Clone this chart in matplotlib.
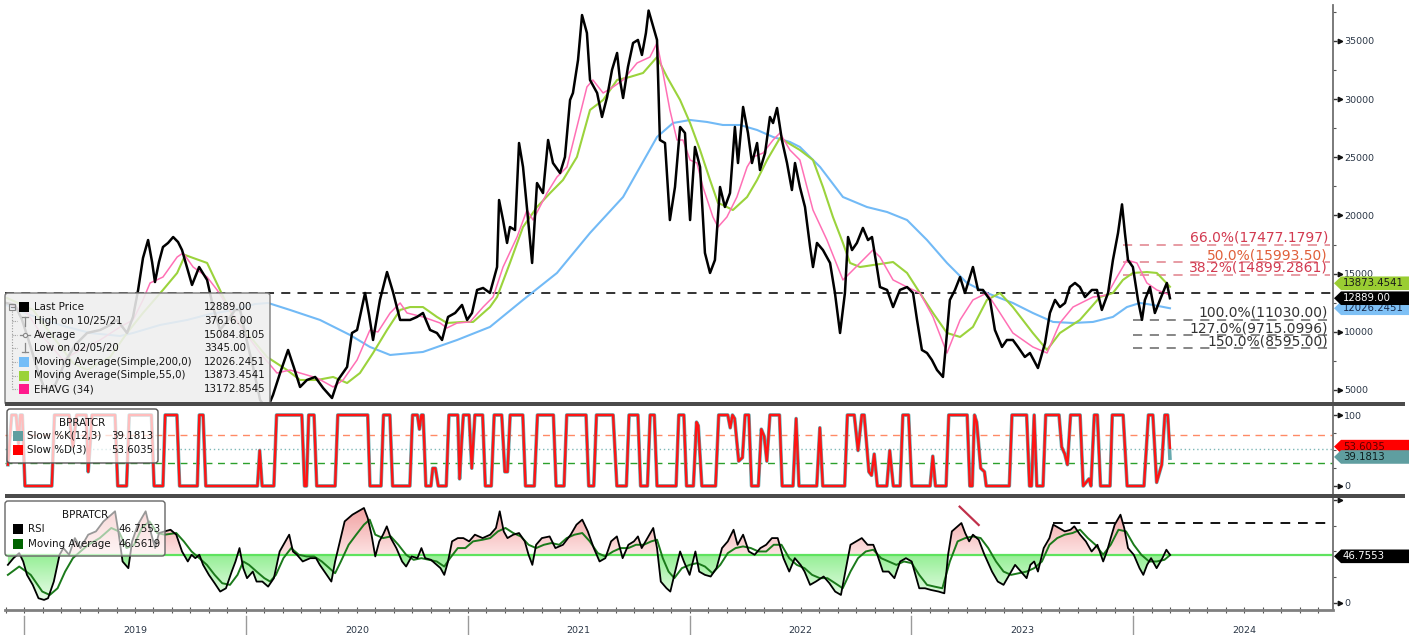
import numpy as np
import matplotlib
matplotlib.use("Agg")
import matplotlib.pyplot as plt
from matplotlib.patches import Polygon, Rectangle, FancyBboxPatch
from matplotlib.lines import Line2D
from matplotlib.transforms import IdentityTransform, blended_transform_factory
from matplotlib.path import Path
from matplotlib.colors import LinearSegmentedColormap, to_rgba

plt.rcParams['font.family'] = ['DejaVu Sans']

# ---------------------------------------------------------------- data
# time in decimal years
price_t = [
    2018.919, 2018.959, 2018.991, 2019.027, 2019.063, 2019.095, 2019.140, 2019.185, 2019.230, 2019.284,
    2019.343, 2019.388, 2019.419, 2019.464, 2019.491, 2019.514, 2019.536, 2019.559, 2019.577, 2019.590,
    2019.608, 2019.626, 2019.649, 2019.672, 2019.694, 2019.712, 2019.735, 2019.757, 2019.789, 2019.825,
    2019.852, 2019.883, 2019.919, 2019.951, 2019.974, 2019.996, 2020.032, 2020.064, 2020.095, 2020.122,
    2020.154, 2020.190, 2020.217, 2020.244, 2020.275, 2020.312, 2020.348, 2020.388, 2020.415, 2020.456,
    2020.478, 2020.501, 2020.537, 2020.555, 2020.573, 2020.604, 2020.636, 2020.663, 2020.695, 2020.740,
    2020.771, 2020.798, 2020.830, 2020.861, 2020.884, 2020.911, 2020.943, 2020.974, 2020.997, 2021.019,
    2021.042, 2021.069, 2021.100, 2021.132, 2021.141, 2021.159, 2021.177, 2021.190, 2021.213, 2021.231,
    2021.249, 2021.272, 2021.290, 2021.312, 2021.339, 2021.362, 2021.384, 2021.416, 2021.438, 2021.461,
    2021.474, 2021.497, 2021.515, 2021.537, 2021.551, 2021.583, 2021.605, 2021.628, 2021.650, 2021.673,
    2021.686, 2021.700, 2021.722, 2021.745, 2021.767, 2021.785, 2021.803, 2021.815, 2021.853, 2021.866,
    2021.889, 2021.911, 2021.934, 2021.957, 2021.979, 2022.002, 2022.024, 2022.047, 2022.069, 2022.092,
    2022.114, 2022.137, 2022.159, 2022.182, 2022.204, 2022.218, 2022.241, 2022.263, 2022.281, 2022.304,
    2022.317, 2022.340, 2022.362, 2022.376, 2022.394, 2022.416, 2022.439, 2022.461, 2022.475, 2022.497,
    2022.520, 2022.543, 2022.556, 2022.574, 2022.601, 2022.633, 2022.655, 2022.678, 2022.700, 2022.714,
    2022.732, 2022.754, 2022.781, 2022.804, 2022.822, 2022.844, 2022.858, 2022.890, 2022.917, 2022.948,
    2022.980, 2023.007, 2023.025, 2023.047, 2023.070, 2023.092, 2023.115, 2023.142, 2023.160, 2023.173,
    2023.196, 2023.219, 2023.241, 2023.277, 2023.300, 2023.322, 2023.354, 2023.376, 2023.408, 2023.430,
    2023.457, 2023.480, 2023.511, 2023.534, 2023.570, 2023.602, 2023.624, 2023.647, 2023.669, 2023.692,
    2023.714, 2023.737, 2023.759, 2023.782, 2023.813, 2023.836, 2023.858, 2023.886, 2023.908, 2023.931,
    2023.949, 2023.962, 2023.976, 2023.998, 2024.021, 2024.039, 2024.052, 2024.075, 2024.097, 2024.120,
    2024.151, 2024.165]
price_v = [
    12480, 12310, 11020, 8870, 6550, 5000, 5430, 7410, 8870, 9900,
    10160, 10590, 11020, 9900, 11280, 13600, 16350, 17890, 16000, 14280,
    16000, 17290, 17640, 18150, 17720, 17030, 15490, 14030, 15570, 14460,
    12130, 10160, 11020, 11880, 11880, 9900, 6980, 4140, 3345, 4570,
    6460, 8440, 6890, 5260, 5860, 6120, 5170, 4310, 5860, 6980,
    9900, 10160, 13340, 11450, 9300, 12740, 15140, 13420, 11020, 11020,
    11280, 11620, 10160, 9900, 9300, 11280, 11620, 12310, 11020, 11620,
    13600, 13770, 13340, 15570, 21330, 19610, 17640, 19010, 18750, 26230,
    24170, 19610, 15920, 22790, 21930, 26490, 24510, 23650, 25030, 29930,
    30530, 33370, 37230, 35690, 31650, 30530, 28470, 30190, 32510, 33970,
    31650, 30100, 32770, 34830, 35090, 33800, 35690, 37616, 35090, 26490,
    26230, 19610, 22450, 27610, 27090, 19610, 25890, 24170, 16780, 15060,
    16170, 22450, 20730, 21930, 27610, 24510, 29330, 27090, 24510, 26230,
    23910, 25370, 28470, 27950, 29240, 26490, 24510, 22190, 24510, 22450,
    20730, 17290, 15570, 17640, 17030, 15920, 13340, 9900, 13340, 18150,
    17030, 17640, 18930, 17890, 18150, 15570, 13850, 13600, 12130, 13600,
    13850, 13340, 11020, 8440, 8180, 7580, 6720, 6120, 9900, 12740,
    13600, 14710, 13340, 15570, 13600, 13600, 12740, 10160, 8700, 9300,
    9300, 8700, 7840, 8180, 6890, 9040, 11620, 12740, 12130, 12480,
    13850, 14200, 13850, 12990, 13600, 13600, 11880, 13340, 16170, 18500,
    20957, 18500, 16170, 15570, 12740, 11030, 12740, 13850, 11620, 12740,
    14200, 12889]

sma200_t = [2018.919, 2019.027, 2019.162, 2019.297, 2019.433, 2019.491, 2019.613, 2019.735, 2019.838, 2019.942,
            2020.041, 2020.100, 2020.199, 2020.334, 2020.469, 2020.559, 2020.650, 2020.798, 2020.952, 2021.100,
            2021.249, 2021.402, 2021.551, 2021.700, 2021.853, 2021.925, 2022.002, 2022.078, 2022.150, 2022.227,
            2022.304, 2022.376, 2022.452, 2022.497, 2022.588, 2022.691, 2022.799, 2022.890, 2022.980, 2023.070,
            2023.160, 2023.250, 2023.340, 2023.457, 2023.547, 2023.638, 2023.728, 2023.818, 2023.908, 2023.971,
            2024.030, 2024.088, 2024.165]
sma200_v = [12310, 11450, 10590, 9900, 9640, 9900, 10590, 11020, 11530, 11880,
            12390, 12480, 11880, 11020, 9730, 8700, 8010, 8270, 9300, 10420,
            12740, 15060, 18500, 21590, 26750, 27950, 28210, 28040, 27780, 27780,
            27350, 26750, 26320, 25890, 24170, 21590, 20730, 20300, 19610, 17890,
            15920, 14200, 13340, 12480, 11620, 10850, 10760, 10850, 11280, 12130,
            12480, 12310, 12026.2451]

sma55_t = [2018.923, 2019.041, 2019.117, 2019.221, 2019.284, 2019.388, 2019.464, 2019.536, 2019.626, 2019.690,
           2019.726, 2019.762, 2019.825, 2019.883, 2019.942, 2020.005, 2020.095, 2020.185, 2020.244, 2020.321,
           2020.393, 2020.456, 2020.514, 2020.573, 2020.636, 2020.695, 2020.740, 2020.798, 2020.861, 2020.906,
           2020.979, 2021.024, 2021.100, 2021.132, 2021.190, 2021.249, 2021.312, 2021.371, 2021.429, 2021.492,
           2021.551, 2021.610, 2021.673, 2021.731, 2021.790, 2021.853, 2021.898, 2021.957, 2022.002, 2022.047,
           2022.092, 2022.128, 2022.150, 2022.195, 2022.259, 2022.304, 2022.349, 2022.407, 2022.497, 2022.556,
           2022.601, 2022.646, 2022.691, 2022.723, 2022.768, 2022.826, 2022.890, 2022.917, 2022.980, 2023.038,
           2023.097, 2023.160, 2023.219, 2023.277, 2023.340, 2023.399, 2023.457, 2023.547, 2023.611, 2023.669,
           2023.759, 2023.850, 2023.908, 2023.953, 2023.998, 2024.061, 2024.106, 2024.165]
sma55_v = [12910, 11880, 9900, 7320, 6720, 7840, 9900, 11620, 13600, 15060,
           16600, 16350, 15920, 13600, 11280, 9900, 7840, 6720, 5860, 5860,
           6120, 5600, 6460, 8180, 10160, 11880, 12130, 12130, 11280, 10760,
           10850, 10850, 12130, 12990, 15920, 19010, 20730, 21930, 23050, 25030,
           29070, 29930, 31650, 31910, 32250, 33620, 31910, 29930, 27950, 25630,
           23050, 21070, 20900, 20470, 21590, 23050, 24770, 26660, 25630, 24770,
           22450, 19870, 17640, 15920, 15570, 15740, 15920, 16000, 15060, 13340,
           11620, 9900, 9560, 10420, 12740, 13340, 12130, 9900, 8440, 9900,
           11020, 12990, 13340, 14460, 15060, 15140, 15060, 13873.4541]

ema34_t = [2018.923, 2019.014, 2019.086, 2019.176, 2019.252, 2019.343, 2019.433, 2019.491, 2019.536, 2019.568,
           2019.626, 2019.690, 2019.717, 2019.762, 2019.825, 2019.870, 2019.928, 2019.987, 2020.064, 2020.140,
           2020.199, 2020.244, 2020.321, 2020.393, 2020.438, 2020.501, 2020.559, 2020.595, 2020.650, 2020.695,
           2020.726, 2020.798, 2020.875, 2020.906, 2020.952, 2021.010, 2021.069, 2021.114, 2021.159, 2021.222,
           2021.267, 2021.294, 2021.357, 2021.402, 2021.447, 2021.492, 2021.537, 2021.564, 2021.610, 2021.655,
           2021.700, 2021.763, 2021.821, 2021.853, 2021.880, 2021.911, 2021.943, 2021.970, 2022.002, 2022.033,
           2022.060, 2022.105, 2022.128, 2022.168, 2022.213, 2022.259, 2022.286, 2022.331, 2022.376, 2022.407,
           2022.452, 2022.497, 2022.556, 2022.619, 2022.691, 2022.723, 2022.768, 2022.826, 2022.858, 2022.917,
           2022.980, 2023.038, 2023.097, 2023.160, 2023.219, 2023.277, 2023.340, 2023.399, 2023.457, 2023.547,
           2023.611, 2023.669, 2023.728, 2023.818, 2023.881, 2023.926, 2023.971, 2024.016, 2024.061, 2024.106,
           2024.165]
ema34_v = [12480, 11620, 9560, 7580, 8440, 9300, 10420, 11020, 12740, 14200,
           14710, 16430, 16780, 15570, 14710, 13600, 11880, 10160, 8180, 6460,
           6720, 6460, 6030, 5260, 5860, 7580, 10160, 9990, 11620, 12480,
           11620, 11280, 10760, 10330, 10760, 10850, 12130, 12990, 15570, 18150,
           20470, 19610, 21930, 23310, 24170, 27610, 31050, 31650, 30530, 31050,
           31650, 33110, 33620, 34830, 32250, 29070, 26490, 26490, 24770, 24510,
           22450, 19870, 19010, 19870, 21590, 24170, 25030, 25370, 26490, 27090,
           25630, 24770, 20470, 17890, 14460, 15060, 15920, 17030, 16430, 14460,
           13850, 13340, 11280, 8180, 11020, 12740, 13340, 11620, 9900, 8700,
           8180, 10760, 12130, 12990, 13160, 14710, 16170, 15920, 14200, 13600,
           13172.8545]

hline_price = 13300
fib_labels = ['66.0%(17477.1797)', '50.0%(15993.50)', '38.2%(14899.2861)',
              '100.0%(11030.00)', '127.0%(9715.0996)', '150.0%(8595.00)']
fib_values = [17477.1797, 15993.50, 14899.2861, 11030.00, 9715.0996, 8595.00]
fib_start = [2023.953, 2023.953, 2023.953, 2023.998, 2023.998, 2023.998]
fib_end = 2024.886

legend_labels = ['Last Price', 'High on 10/25/21', 'Average', 'Low on 02/05/20',
                 'Moving Average(Simple,200,0)', 'Moving Average(Simple,55,0)', 'EHAVG (34)']
legend_values = ['12889.00', '37616.00', '15084.8105', '3345.00',
                 '12026.2451', '13873.4541', '13172.8545']

stoch_t = [
    2018.927, 2018.944, 2018.964, 2018.975, 2018.983, 2018.992, 2019.004, 2019.125, 2019.137, 2019.203,
    2019.220, 2019.237, 2019.280, 2019.289, 2019.298, 2019.306, 2019.410, 2019.422, 2019.462, 2019.474,
    2019.574, 2019.586, 2019.626, 2019.636, 2019.689, 2019.701, 2019.781, 2019.790, 2019.807, 2019.819,
    2020.052, 2020.062, 2020.073, 2020.126, 2020.138, 2020.252, 2020.264, 2020.273, 2020.283, 2020.307,
    2020.319, 2020.402, 2020.414, 2020.549, 2020.559, 2020.609, 2020.620, 2020.649, 2020.661, 2020.739,
    2020.751, 2020.773, 2020.782, 2020.791, 2020.799, 2020.811, 2020.834, 2020.842, 2020.854, 2020.867,
    2020.903, 2020.915, 2020.955, 2020.963, 2020.972, 2020.980, 2021.006, 2021.018, 2021.032, 2021.067,
    2021.079, 2021.106, 2021.119, 2021.153, 2021.167, 2021.179, 2021.191, 2021.248, 2021.260, 2021.300,
    2021.314, 2021.386, 2021.398, 2021.434, 2021.446, 2021.533, 2021.545,
    2021.568, 2021.580, 2021.655, 2021.672, 2021.715, 2021.727, 2021.767, 2021.779, 2021.810, 2021.822,
    2021.841, 2021.853, 2021.939, 2021.951, 2021.974, 2021.986, 2022.017, 2022.031, 2022.039, 2022.055,
    2022.117, 2022.131, 2022.172, 2022.183, 2022.193, 2022.203, 2022.221, 2022.238, 2022.250, 2022.267,
    2022.279, 2022.310, 2022.323, 2022.336, 2022.348, 2022.362, 2022.405, 2022.417, 2022.466, 2022.480,
    2022.493, 2022.573, 2022.587, 2022.600, 2022.699, 2022.711, 2022.742, 2022.759, 2022.776, 2022.787,
    2022.808, 2022.820, 2022.832, 2022.846, 2022.889, 2022.902, 2022.918, 2022.949, 2022.961, 2022.987,
    2023.001, 2023.084, 2023.096, 2023.108, 2023.156, 2023.168, 2023.251, 2023.263, 2023.274, 2023.284,
    2023.294, 2023.312, 2023.329, 2023.337, 2023.441, 2023.453, 2023.519, 2023.532, 2023.541, 2023.553,
    2023.565, 2023.593, 2023.605, 2023.665, 2023.677, 2023.691, 2023.703, 2023.717, 2023.760, 2023.774,
    2023.800, 2023.809, 2023.824, 2023.838, 2023.852, 2023.895, 2023.905, 2023.954, 2023.972, 2024.048,
    2024.068, 2024.088, 2024.105, 2024.128, 2024.142, 2024.155, 2024.165]
stoch_d = [
    30, 100, 100, 60, 100, 100, 0, 0, 100, 100,
    55, 100, 100, 20, 60, 100, 100, 0, 0, 100,
    100, 0, 0, 100, 100, 0, 0, 100, 100, 0,
    0, 50, 0, 0, 100, 100, 0, 0, 100, 100,
    0, 0, 100, 100, 0, 0, 100, 100, 0, 0,
    100, 100, 80, 100, 100, 0, 0, 25, 25, 0,
    0, 100, 100, 10, 60, 100, 100, 25, 100, 100,
    0, 0, 100, 100, 20, 20, 100, 100, 0, 0,
    100, 100, 0, 0, 100, 100, 0,
    0, 100, 100, 0, 0, 100, 100, 0, 0, 100,
    100, 0, 0, 100, 100, 0, 0, 90, 85, 0,
    0, 100, 100, 82, 100, 95, 35, 40, 100, 100,
    0, 0, 80, 70, 35, 100, 100, 0, 0, 95,
    0, 0, 82, 0, 0, 100, 100, 50, 100, 100,
    20, 15, 45, 0, 0, 50, 0, 0, 100, 100,
    0, 0, 42, 0, 0, 100, 100, 0, 0, 100,
    90, 25, 20, 0, 0, 100, 100, 0, 0, 100,
    0, 0, 100, 100, 55, 45, 30, 100, 100, 0,
    10, 0, 100, 100, 0, 0, 100, 100, 0, 0,
    100, 100, 5, 30, 100, 100, 53.6035]
stoch_k = stoch_d[:-1] + [39.1813]
stoch_levels = [72, 52, 32]

rsi_t = [
    2018.927, 2018.952, 2018.978, 2018.996, 2019.013, 2019.039, 2019.065, 2019.090, 2019.108, 2019.134,
    2019.160, 2019.177, 2019.203, 2019.229, 2019.254, 2019.289, 2019.324, 2019.358, 2019.393, 2019.410,
    2019.427, 2019.444, 2019.470, 2019.487, 2019.513, 2019.548, 2019.574, 2019.591, 2019.608, 2019.634,
    2019.660, 2019.686, 2019.712, 2019.738, 2019.755, 2019.772, 2019.790, 2019.807, 2019.833, 2019.859,
    2019.884, 2019.910, 2019.936, 2019.953, 2019.971, 2019.988, 2020.005, 2020.031, 2020.048, 2020.074,
    2020.100, 2020.126, 2020.152, 2020.178, 2020.195, 2020.212, 2020.230, 2020.256, 2020.290, 2020.316,
    2020.333, 2020.359, 2020.385, 2020.402, 2020.420, 2020.445, 2020.480, 2020.506, 2020.532, 2020.549,
    2020.566, 2020.583, 2020.601, 2020.618, 2020.635, 2020.653, 2020.678, 2020.704, 2020.722, 2020.747,
    2020.773, 2020.791, 2020.808, 2020.834, 2020.860, 2020.877, 2020.894, 2020.911, 2020.929, 2020.955,
    2020.980, 2021.006, 2021.032, 2021.067, 2021.101, 2021.127, 2021.144, 2021.162, 2021.179, 2021.205,
    2021.231, 2021.257, 2021.274, 2021.291, 2021.308, 2021.334, 2021.369, 2021.395, 2021.429, 2021.464,
    2021.490, 2021.516, 2021.541,
    2021.568, 2021.594, 2021.620, 2021.646, 2021.672, 2021.698, 2021.724, 2021.749, 2021.767, 2021.784,
    2021.810, 2021.836, 2021.853, 2021.870, 2021.896, 2021.913, 2021.931, 2021.957, 2021.974, 2022.000,
    2022.026, 2022.043, 2022.069, 2022.095, 2022.121, 2022.146, 2022.172, 2022.198, 2022.216, 2022.241,
    2022.267, 2022.293, 2022.319, 2022.345, 2022.371, 2022.397, 2022.423, 2022.449, 2022.474, 2022.500,
    2022.518, 2022.543, 2022.569, 2022.604, 2022.630, 2022.656, 2022.682, 2022.699, 2022.725, 2022.751,
    2022.776, 2022.802, 2022.828, 2022.846, 2022.871, 2022.897, 2022.923, 2022.949, 2022.975, 2023.001,
    2023.018, 2023.035, 2023.061, 2023.087, 2023.122, 2023.148, 2023.165, 2023.182, 2023.208, 2023.225,
    2023.242, 2023.260, 2023.277, 2023.303, 2023.329, 2023.363, 2023.389, 2023.415, 2023.441, 2023.467,
    2023.493, 2023.519, 2023.536, 2023.553, 2023.570, 2023.596, 2023.622, 2023.639, 2023.665, 2023.691,
    2023.717, 2023.734, 2023.760, 2023.786, 2023.812, 2023.838, 2023.864, 2023.881, 2023.898, 2023.916,
    2023.942, 2023.959, 2023.976, 2024.002, 2024.028, 2024.045, 2024.062, 2024.080, 2024.105, 2024.131,
    2024.149, 2024.165]
rsi_v = [
    37.0, 43.5, 48.4, 40.3, 27.3, 17.6, 4.6, 3.0, 4.6, 20.8,
    46.8, 53.3, 46.8, 63.0, 53.3, 66.3, 69.5, 79.2, 85.7, 89.0,
    66.3, 40.3, 33.8, 59.8, 76.0, 89.0, 66.3, 53.3, 67.9, 69.5,
    71.1, 66.3, 50.0, 40.3, 46.8, 43.5, 46.8, 37.0, 27.3, 19.2,
    11.1, 14.3, 30.5, 40.3, 53.3, 33.8, 24.1, 30.5, 20.8, 20.8,
    15.9, 24.1, 50.0, 59.8, 66.3, 50.0, 46.8, 40.3, 43.5, 43.5,
    37.0, 28.9, 20.8, 40.3, 56.5, 79.2, 85.7, 89.0, 92.2, 82.5,
    66.3, 45.2, 59.8, 66.3, 74.4, 63.0, 53.3, 40.3, 35.4, 45.2,
    43.5, 53.3, 43.5, 41.9, 37.0, 33.8, 27.3, 40.3, 59.8, 63.0,
    63.0, 59.8, 66.3, 63.0, 66.3, 72.8, 89.0, 69.5, 63.0, 66.3,
    67.9, 59.8, 46.8, 37.0, 56.5, 63.0, 64.6, 53.3, 56.5, 66.3,
    76.0, 80.9, 69.5,
    53.3, 40.3, 43.5, 59.8, 64.6, 43.5, 56.5, 59.8, 64.6, 53.3,
    63.0, 72.8, 53.3, 20.8, 14.3, 11.1, 27.3, 50.0, 40.3, 27.3,
    50.0, 30.5, 27.3, 25.7, 33.8, 53.3, 59.8, 71.1, 56.5, 66.3,
    50.0, 46.8, 53.3, 56.5, 63.0, 63.0, 43.5, 30.5, 43.5, 37.0,
    30.5, 17.6, 20.8, 25.7, 19.2, 11.1, 7.8, 27.3, 56.5, 59.8,
    63.0, 56.5, 56.5, 46.8, 30.5, 30.5, 24.1, 40.3, 43.5, 40.3,
    27.3, 14.3, 14.3, 12.7, 11.1, 9.4, 46.8, 69.5, 74.4, 77.6,
    67.9, 59.8, 66.3, 61.4, 46.8, 30.5, 20.8, 17.6, 27.3, 37.0,
    30.5, 24.1, 37.0, 40.3, 30.5, 53.3, 63.0, 76.0, 72.8, 69.5,
    71.1, 74.4, 66.3, 59.8, 50.0, 56.5, 40.3, 50.0, 63.0, 76.0,
    85.7, 72.8, 53.3, 46.8, 33.8, 27.3, 37.0, 43.5, 33.8, 43.5,
    51.7, 46.7553]

rsima_t = [
    2018.927, 2018.978, 2019.030, 2019.082, 2019.116, 2019.151, 2019.185, 2019.220, 2019.254, 2019.289,
    2019.341, 2019.393, 2019.427, 2019.462, 2019.496, 2019.531, 2019.565, 2019.600, 2019.634, 2019.686,
    2019.720, 2019.755, 2019.790, 2019.824, 2019.859, 2019.893, 2019.928, 2019.962, 2019.988, 2020.014,
    2020.048, 2020.083, 2020.109, 2020.135, 2020.169, 2020.204, 2020.238, 2020.273, 2020.307, 2020.342,
    2020.376, 2020.402, 2020.428, 2020.463, 2020.497, 2020.532, 2020.558, 2020.583, 2020.618, 2020.653,
    2020.687, 2020.722, 2020.756, 2020.791, 2020.825, 2020.860, 2020.894, 2020.920, 2020.955, 2020.989,
    2021.024, 2021.067, 2021.101, 2021.136, 2021.170, 2021.205, 2021.239, 2021.274, 2021.308, 2021.343,
    2021.377, 2021.412, 2021.446, 2021.481, 2021.516, 2021.550,
    2021.586, 2021.620, 2021.655, 2021.689, 2021.724, 2021.758, 2021.793, 2021.827, 2021.853, 2021.879,
    2021.905, 2021.931, 2021.965, 2022.000, 2022.034, 2022.069, 2022.103, 2022.138, 2022.172, 2022.207,
    2022.241, 2022.276, 2022.310, 2022.345, 2022.379, 2022.414, 2022.449, 2022.483, 2022.518, 2022.552,
    2022.587, 2022.621, 2022.656, 2022.690, 2022.725, 2022.759, 2022.794, 2022.828, 2022.863, 2022.897,
    2022.932, 2022.966, 2023.001, 2023.035, 2023.070, 2023.104, 2023.139, 2023.173, 2023.208, 2023.242,
    2023.277, 2023.312, 2023.346, 2023.381, 2023.415, 2023.449, 2023.484, 2023.519, 2023.553, 2023.588,
    2023.622, 2023.657, 2023.691, 2023.726, 2023.760, 2023.795, 2023.829, 2023.864, 2023.898, 2023.933,
    2023.967, 2024.002, 2024.036, 2024.071, 2024.105, 2024.140, 2024.166]
rsima_v = [
    27.3, 35.4, 27.3, 11.1, 7.8, 14.3, 30.5, 43.5, 50.0, 56.5,
    63.0, 72.8, 69.5, 53.3, 56.5, 72.8, 79.2, 67.9, 66.3, 67.9,
    59.8, 50.0, 43.5, 37.0, 27.3, 19.2, 17.6, 27.3, 40.3, 37.0,
    30.5, 24.1, 20.8, 27.3, 43.5, 53.3, 46.8, 45.2, 45.2, 40.3,
    33.8, 28.9, 40.3, 56.5, 66.3, 76.0, 80.9, 66.3, 63.0, 64.6,
    56.5, 46.8, 41.9, 43.5, 41.9, 40.3, 35.4, 43.5, 53.3, 53.3,
    59.8, 61.4, 63.0, 69.5, 72.8, 67.9, 64.6, 56.5, 53.3, 56.5,
    58.2, 56.5, 63.0, 66.3, 67.9, 59.8,
    48.4, 45.2, 50.0, 53.3, 53.3, 56.5, 56.5, 59.8, 61.4, 43.5,
    30.5, 24.1, 33.8, 37.0, 38.7, 35.4, 28.9, 37.0, 48.4, 53.3,
    54.9, 53.3, 50.0, 50.0, 56.5, 56.5, 43.5, 37.0, 33.8, 27.3,
    24.1, 24.1, 19.2, 14.3, 30.5, 43.5, 50.0, 51.7, 43.5, 40.3,
    37.0, 40.3, 38.7, 27.3, 17.6, 15.9, 14.3, 40.3, 59.8, 63.0,
    64.6, 63.0, 53.3, 40.3, 30.5, 27.3, 28.9, 30.5, 33.8, 40.3,
    56.5, 63.0, 66.3, 67.9, 71.1, 63.0, 56.5, 46.8, 56.5, 71.1,
    69.5, 56.5, 46.8, 40.3, 40.3, 41.9, 46.5619]
rsi_level = 46.7553
trend_t = [2023.217, 2023.303]
trend_v = [93.5, 75.7]
resist_t = [2023.638, 2024.900]
resist_v = [77.3, 77.3]
years = [2019, 2020, 2021, 2022, 2023, 2024]

# ---------------------------------------------------------------- figure
W, H = 1409, 635
fig = plt.figure(figsize=(W / 100, H / 100), dpi=100)
fig.patch.set_facecolor('white')
ID = IdentityTransform()
TXT = '#2a3646'
AX_FS = 6.8
LEG_FS = 7.4


def frac(x0, y0, x1, y1):
    return [x0 / W, 1 - y1 / H, (x1 - x0) / W, (y1 - y0) / H]


ax1 = fig.add_axes(frac(5, 5, 1333, 402))
ax2 = fig.add_axes(frac(5, 406, 1333, 494))
ax3 = fig.add_axes(frac(5, 498, 1333, 610))
XMIN, XMAX = 2018.914, 2024.900

for ax in (ax1, ax2, ax3):
    ax.set_facecolor('white')
    for s in ('left', 'top', 'bottom'):
        ax.spines[s].set_visible(False)
    ax.spines['right'].set_color('#707070')
    ax.spines['right'].set_linewidth(1.3)
    ax.yaxis.tick_right()
    ax.tick_params(axis='y', which='major', length=3, width=1, color='#333',
                   labelsize=AX_FS, labelcolor=TXT, pad=5)
    ax.tick_params(axis='y', which='minor', length=2.5, width=0.8, color='#555')
    ax.tick_params(axis='x', which='both', bottom=False, top=False, labelbottom=False)


def arrows(ax, vals):
    tr = blended_transform_factory(ax.transAxes, ax.transData)
    ax.plot([1.005] * len(vals), vals, ls='none', marker='>', ms=3.2, color='#111',
            transform=tr, clip_on=False, zorder=10)


# ---- top panel
ax1.plot(sma200_t, sma200_v, color='#72baf6', lw=1.5, zorder=2)
ax1.plot(sma55_t, sma55_v, color='#9bd33c', lw=1.5, zorder=3)
ax1.plot(ema34_t, ema34_v, color='#ff70b5', lw=1.1, zorder=4)
ax1.plot(price_t, price_v, color='black', lw=1.8, zorder=5, solid_joinstyle='round')
ax1.axhline(hline_price, color='#222222', lw=1.3, ls=(0, (5, 4)), zorder=1)
fib_line_colors = ['#e0808a', '#e0808a', '#e0808a', '#666666', '#666666', '#666666']
fib_text_colors = ['#d23a50', '#e0603a', '#d23a50', '#333333', '#333333', '#333333']
for lab, val, t0, lc, tc in zip(fib_labels, fib_values, fib_start, fib_line_colors, fib_text_colors):
    ax1.plot([t0, fib_end], [val, val], color=lc, lw=1.1, ls=(0, (6, 5)), zorder=1)
    ax1.text(fib_end - 0.009, val, lab, ha='right', va='bottom', fontsize=10, color=tc, zorder=6)
ax1.set_xlim(XMIN, XMAX)
ax1.set_ylim(3968, 38094)
ax1.set_yticks(list(range(5000, 35001, 5000)))
ax1.set_yticks(list(range(7500, 37501, 5000)), minor=True)
arrows(ax1, list(range(5000, 35001, 5000)))

# ---- stochastic panel
for lvl, c, ls in zip(stoch_levels, ['#ff8a66', '#7fb8b8', '#2ca02c'],
                      [(0, (5, 4)), (0, (1, 2)), (0, (5, 4))]):
    ax2.axhline(lvl, color=c, lw=1, ls=ls, zorder=1)
ax2.plot(stoch_t, stoch_k, color='#66a9ae', lw=2.6, zorder=2, solid_joinstyle='round')
ax2.plot(stoch_t, stoch_d, color='#ff1414', lw=1.7, zorder=3, solid_joinstyle='round')
ax2.set_xlim(XMIN, XMAX)
ax2.set_ylim(-11.3, 112.7)
ax2.set_yticks([0, 100])
ax2.set_yticks([25, 50, 75], minor=True)
arrows(ax2, [0, 100])

# ---- RSI panel
rt = np.asarray(rsi_t)
rv = np.asarray(rsi_v)
up = ax3.fill_between(rt, rv, rsi_level, where=rv >= rsi_level, interpolate=True,
                      facecolor='none', edgecolor='none')
dn = ax3.fill_between(rt, rv, rsi_level, where=rv <= rsi_level, interpolate=True,
                      facecolor='none', edgecolor='none')
grad = np.linspace(0, 1, 256).reshape(-1, 1)
cm_up = LinearSegmentedColormap.from_list('up', ['#fde4e4', '#ef9696'])
cm_dn = LinearSegmentedColormap.from_list('dn', ['#f0fdf0', '#94ef94'])
im_up = ax3.imshow(grad, extent=[XMIN, XMAX, rsi_level, 100], origin='lower', cmap=cm_up,
                   aspect='auto', zorder=1, interpolation='bilinear')
im_up.set_clip_path(Path.make_compound_path(*up.get_paths()), ax3.transData)
im_dn = ax3.imshow(grad, extent=[XMIN, XMAX, 0, rsi_level], origin='lower', cmap=cm_dn,
                   aspect='auto', zorder=1, interpolation='bilinear')
im_dn.set_clip_path(Path.make_compound_path(*dn.get_paths()), ax3.transData)
ax3.axhline(rsi_level, color='#5fe35f', lw=1.6, zorder=2)
ax3.plot(rsima_t, rsima_v, color='#1b7a1b', lw=1.4, zorder=3)
ax3.plot(rsi_t, rsi_v, color='black', lw=1.3, zorder=4, solid_joinstyle='round')
ax3.plot(trend_t, trend_v, color='#c0304a', lw=1.6, zorder=5)
ax3.plot(resist_t, resist_v, color='#111111', lw=1.4, ls=(0, (5, 4)), zorder=5, clip_on=False)
ax3.set_xlim(XMIN, XMAX)
ax3.set_ylim(-6.8, 101.9)
ax3.set_yticks([0, 100])
ax3.set_yticklabels(['0', ''])
ax3.set_yticks([25, 50, 75], minor=True)
arrows(ax3, [0, 100])
ax3.spines['bottom'].set_visible(True)
ax3.spines['bottom'].set_color('#808080')
ax3.spines['bottom'].set_linewidth(2)
months = [2018 + 11 / 12] + [y + m / 12 for y in years for m in range(12)]
months = [m for m in months if XMIN <= m <= XMAX]
ax3.set_xticks(months)
ax3.tick_params(axis='x', which='major', bottom=True, length=5, width=0.8, color='#555',
                direction='inout', labelbottom=False)
trx = blended_transform_factory(ax3.transData, ax3.transAxes)
for yr in years:
    ax3.plot([yr, yr], [-0.05, -0.23], color='#9a9a9a', lw=1, transform=trx, clip_on=False)
    ax3.text(yr + 0.5, -0.185, str(yr), transform=trx, ha='center', va='center',
             fontsize=AX_FS, color=TXT)

# ---------------------------------------------------------------- legends
def ftext(x, y, s, **kw):
    kw.setdefault('fontsize', LEG_FS)
    kw.setdefault('color', '#151515')
    kw.setdefault('va', 'center')
    fig.text(x, H - y, s, transform=ID, **kw)


def fsquare(x, y, c, z=9):
    fig.add_artist(Rectangle((x, H - y - 5), 10, 10, transform=ID, fc=c, ec='none', zorder=z))


def fline(xs, ys, **kw):
    fig.add_artist(Line2D(xs, [H - v for v in ys], transform=ID, **kw))


# top legend
fig.add_artist(FancyBboxPatch((5, H - 405), 265, 112, boxstyle='round,pad=0,rounding_size=3',
                              transform=ID, fc=to_rgba('#efefef', 0.88), ec='#7a7a7a', lw=1, zorder=8))
rows_y = [307, 321, 334.5, 348, 362, 375.5, 389]
sq_cols = ['#000000', None, None, None, '#74bdf7', '#9ad23a', '#ff1a8c']
for yy, lab, val, c in zip(rows_y, legend_labels, legend_values, sq_cols):
    if c:
        fsquare(19, yy, c)
    ftext(34, yy, lab, zorder=9)
    ftext(204, yy, val, zorder=9)
fig.add_artist(Rectangle((9, H - 310), 6, 6, transform=ID, fc='none', ec='#888', lw=0.8, zorder=9))
fline([10.5, 13.5], [307, 307], color='#888', lw=0.8, zorder=9)
fline([12, 12], [311, 389], color='#9a9a9a', lw=0.8, ls=(0, (1, 1.5)), zorder=9)
for yy in rows_y[1:]:
    fline([12, 17], [yy, yy], color='#9a9a9a', lw=0.8, ls=(0, (1, 1)), zorder=9)
fline([25, 25], [317, 326], color='#888', lw=0.9, zorder=9)
fline([22, 28], [317, 317], color='#888', lw=0.9, zorder=9)
fline([20, 30], [334.5, 334.5], color='#888', lw=0.9, zorder=9)
fig.add_artist(Line2D([25], [H - 334.5], transform=ID, marker='o', ms=3, mfc='#efefef',
                      mec='#888', mew=0.8, zorder=9))
fline([25, 25], [343, 352], color='#888', lw=0.9, zorder=9)
fline([22, 28], [352, 352], color='#888', lw=0.9, zorder=9)

# stochastic legend
fig.add_artist(FancyBboxPatch((7, H - 463), 151, 54, boxstyle='round,pad=0,rounding_size=3',
                              transform=ID, fc=to_rgba('white', 0.72), ec='#555', lw=1, zorder=8))
ftext(82, 423, 'BPRATCR', ha='center', zorder=9)
fsquare(13, 436, '#5f9ea0')
fsquare(13, 450, '#ff0000')
ftext(27, 436, 'Slow %K(12,3)', zorder=9)
ftext(27, 450, 'Slow %D(3)', zorder=9)
ftext(153, 436, '39.1813', ha='right', zorder=9)
ftext(153, 450, '53.6035', ha='right', zorder=9)

# RSI legend
fig.add_artist(FancyBboxPatch((5, H - 556), 160, 55, boxstyle='round,pad=0,rounding_size=3',
                              transform=ID, fc=to_rgba('white', 0.6), ec='#666', lw=1, zorder=8))
ftext(85, 515.5, 'BPRATCR', ha='center', zorder=9)
fsquare(13, 528.5, '#000000')
fsquare(13, 544, '#006400')
ftext(28, 528.5, 'RSI', zorder=9)
ftext(28, 544, 'Moving Average', zorder=9)
ftext(161, 528.5, '46.7553', ha='right', zorder=9)
ftext(161, 544, '46.5619', ha='right', zorder=9)

# ---------------------------------------------------------------- value tags
def tag(ax, value, text, bg, fg, dy=0.0, z=11):
    x0, yd = ax.transData.transform((XMAX, value))
    yd += dy
    h = 6.8
    fig.add_artist(Polygon([[x0 + 1, yd], [x0 + 8, yd + h], [W, yd + h], [W, yd - h], [x0 + 8, yd - h]],
                           closed=True, transform=ID, fc=bg, ec='none', zorder=z))
    fig.text(x0 + 10, yd, text, transform=ID, fontsize=7.3, color=fg, va='center', ha='left',
             zorder=z + 0.5)


tag(ax1, 13873.4541, '13873.4541', '#9acd32', '#1a1a1a', dy=3.5, z=11)
tag(ax1, 12026.2451, '12026.2451', '#7ec0f5', '#1a2a4a', dy=0, z=12)
tag(ax1, 12889.00, '12889.00', '#000000', 'white', dy=0, z=13)
tag(ax2, 53.6035, '53.6035', '#ff0000', '#5a0000', dy=1.3, z=11)
tag(ax2, 39.1813, '39.1813', '#5f9ea0', '#0e1e1e', dy=1.2, z=12)
tag(ax3, rsi_level, '46.7553', '#000000', 'white', dy=-1.5, z=11)

# panel separators
for ytop in (402, 494):
    fig.add_artist(Rectangle((5, H - ytop - 4), 1400, 4, transform=ID, fc='#4b4b4b', ec='none',
                             zorder=20))

fig.savefig('out.png', dpi=100, facecolor='white')
